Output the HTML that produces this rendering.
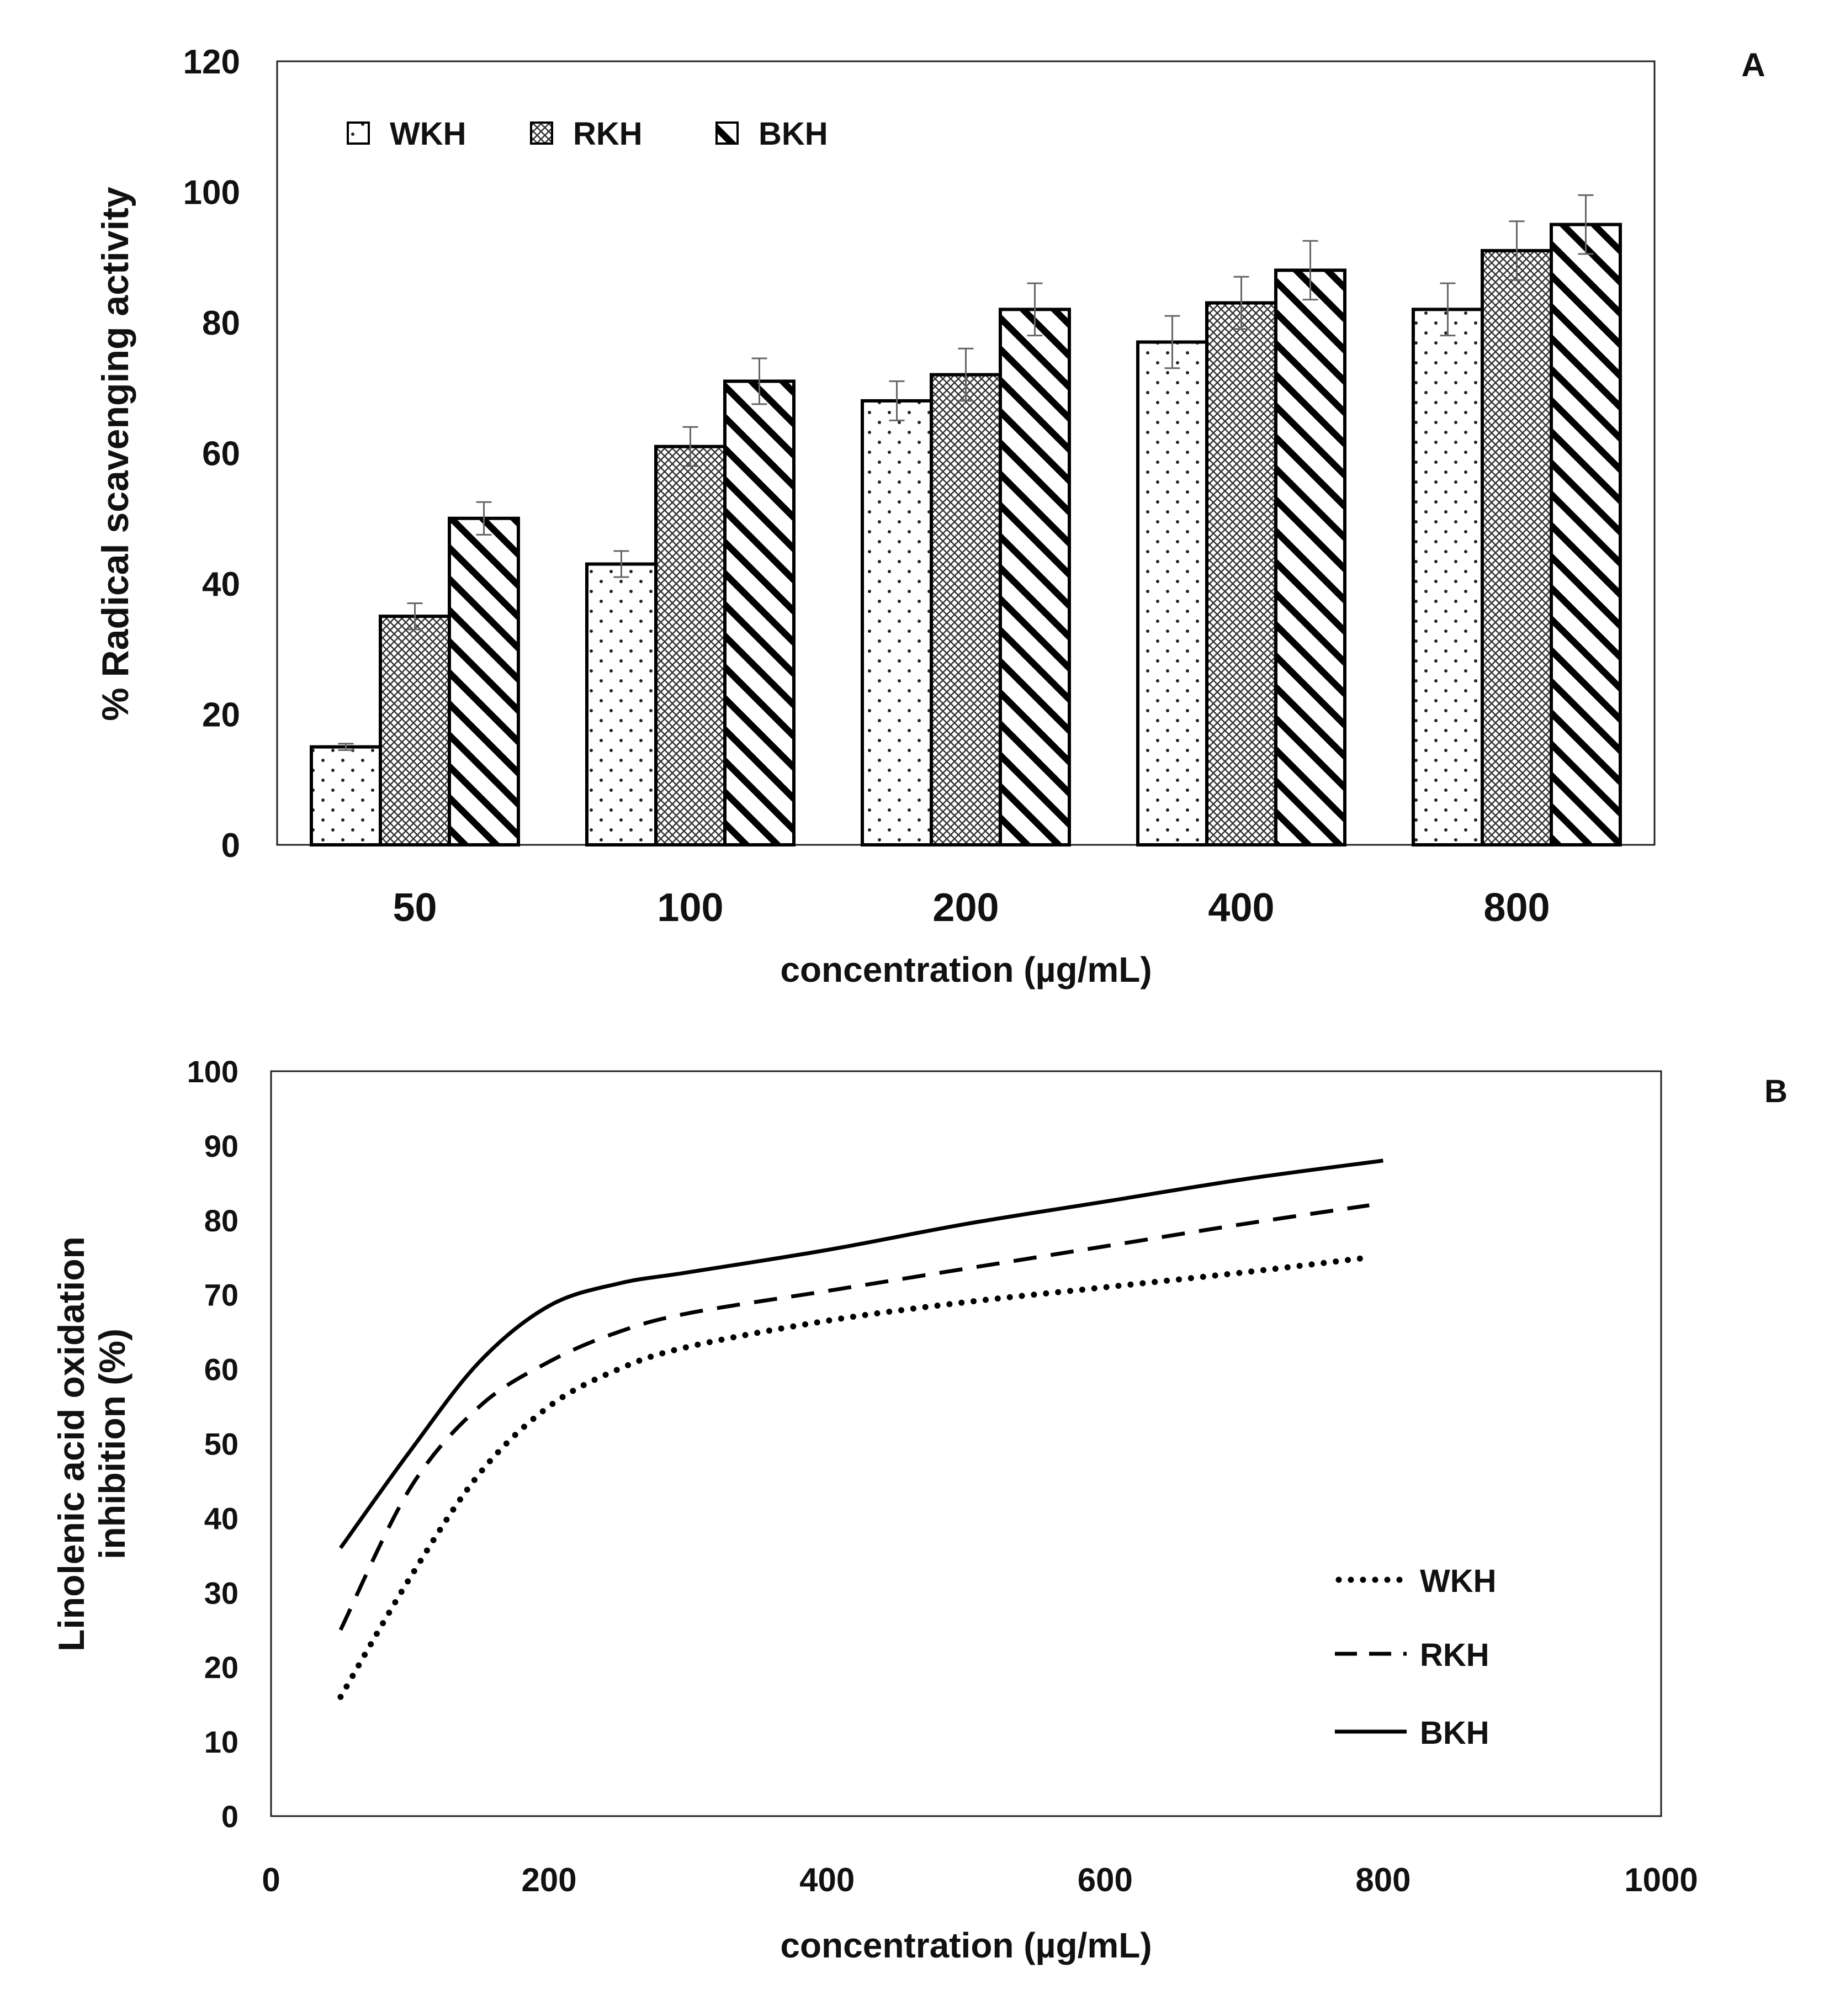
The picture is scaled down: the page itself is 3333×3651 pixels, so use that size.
<!DOCTYPE html>
<html><head><meta charset="utf-8"><style>
html,body{margin:0;padding:0;background:#fff;}
svg text{font-family:"Liberation Sans",sans-serif;font-weight:bold;fill:#111;}
</style></head><body>
<svg id="fig" width="3333" height="3646" xmlns="http://www.w3.org/2000/svg">
<defs>
<pattern id="pDots" patternUnits="userSpaceOnUse" width="36" height="36"><rect width="36" height="36" fill="#fff"/><circle cx="9" cy="9" r="3" fill="#222"/><circle cx="27" cy="27" r="3" fill="#222"/></pattern>
<pattern id="pCross" patternUnits="userSpaceOnUse" width="14" height="14"><rect width="14" height="14" fill="#fff"/><path d="M0,0L14,14M14,0L0,14" stroke="#333" stroke-width="2.5"/></pattern>
<pattern id="pDiag" patternUnits="userSpaceOnUse" width="40" height="40" patternTransform="rotate(45)"><rect width="40" height="40" fill="#fff"/><rect x="0" y="0" width="40" height="12" fill="#000"/></pattern>
</defs>
<g id="chartA"></g>
<g id="chartB"></g>
</svg>
<script>
const NS='http://www.w3.org/2000/svg';
const catsA=['50','100','200','400','800'];
const wkhA=[15,43,68,77,82];
const rkhA=[35,61,72,83,91];
const bkhA=[50,71,82,88,95];
const wkhErr=[0.5,2,3,4,4];
const rkhErr=[2,3,4,4,4.5];
const bkhErr=[2.5,3.5,4,4.5,4.5];
const yTicksA=[0,20,40,60,80,100,120];
const xB=[50,100,150,200,250,300,400,500,600,700,800];
const bkhB=[36,49,61,68.5,71.5,73,76,79.5,82.5,85.5,88];
const rkhB=[25,44,55,61,65,67.5,70.5,73.5,76.5,79.5,82];
const wkhB=[16,32,46,55,60,63,66.5,69,71,73,75];
const yTicksB=[0,10,20,30,40,50,60,70,80,90,100];
const xTicksB=[0,200,400,600,800,1000];

function mk(parent,tag,attrs,text){const e=document.createElementNS(NS,tag);for(const k in attrs)e.setAttribute(k,attrs[k]);if(text!==undefined)e.textContent=text;parent.appendChild(e);return e;}

// ---- Chart A ----
const A=document.getElementById('chartA');
const aL=502,aR=2997,aT=111,aB=1530;
const yA=v=>aB-(v/120)*(aB-aT);
const catW=(aR-aL)/catsA.length, barW=125;
const frameA=mk(A,'rect',{x:aL,y:aT,width:aR-aL,height:aB-aT,fill:'none',stroke:'#222','stroke-width':3});


yTicksA.forEach(t=>{const e=mk(A,'text',{x:435,y:yA(t)+22,'text-anchor':'end','font-size':62},t);

});
const seriesA=[[wkhA,wkhErr,'url(#pDots)','wkh'],[rkhA,rkhErr,'url(#pCross)','rkh'],[bkhA,bkhErr,'url(#pDiag)','bkh']];
catsA.forEach((c,i)=>{
  const cx=aL+catW*(i+0.5);
  seriesA.forEach((s,j)=>{
    const x=cx-1.5*barW+j*barW, v=s[0][i], e=s[1][i];
    const r=mk(A,'rect',{x:x,y:yA(v),width:barW,height:aB-yA(v),fill:s[2],stroke:'#000','stroke-width':6});
    
    
    const ex=x+barW/2;
    const eb=mk(A,'path',{d:`M${ex},${yA(v+e)}V${yA(v-e)}M${ex-14},${yA(v+e)}H${ex+14}M${ex-14},${yA(v-e)}H${ex+14}`,stroke:'#666','stroke-width':3,fill:'none'});
    
    
  });
  const t=mk(A,'text',{x:cx,y:1668,'text-anchor':'middle','font-size':72},c);
  
  
});
let t;
t=mk(A,'text',{x:1750,y:1778,'text-anchor':'middle','font-size':64},'concentration (µg/mL)');

t=mk(A,'text',{x:0,y:0,'text-anchor':'middle','font-size':68,transform:'translate(232,822) rotate(-90)'},'% Radical scavenging activity');

t=mk(A,'text',{x:3176,y:138,'text-anchor':'middle','font-size':60},'A');

const legA=[['WKH','url(#pDots)',630],['RKH','url(#pCross)',962],['BKH','url(#pDiag)',1298]];
legA.forEach(l=>{
  const g=mk(A,'g',{});
  
  
  mk(g,'rect',{x:l[2],y:222,width:38,height:38,fill:l[1],stroke:'#000','stroke-width':4});
  mk(g,'text',{x:l[2]+76,y:262,'font-size':58},l[0]);
});

// ---- Chart B ----
const B=document.getElementById('chartB');
const bL=491,bR=3009,bT=1940,bB=3289;
const xs=v=>bL+(v/1000)*(bR-bL);
const ys=v=>bB-(v/100)*(bB-bT);
const frameB=mk(B,'rect',{x:bL,y:bT,width:bR-bL,height:bB-bT,fill:'none',stroke:'#222','stroke-width':3});


yTicksB.forEach(v=>{const e=mk(B,'text',{x:432,y:ys(v)+20,'text-anchor':'end','font-size':56},v);

});
xTicksB.forEach(v=>{const e=mk(B,'text',{x:xs(v),y:3425,'text-anchor':'middle','font-size':60},v);

});
function smooth(xsArr,ysArr){
  const p=xsArr.map((x,i)=>[xs(x),ys(ysArr[i])]);
  let d=`M${p[0][0]},${p[0][1]}`;
  for(let i=0;i<p.length-1;i++){
    const p0=p[i-1]||p[i],p1=p[i],p2=p[i+1],p3=p[i+2]||p2;
    const c1=[p1[0]+(p2[0]-p0[0])/6,p1[1]+(p2[1]-p0[1])/6];
    const c2=[p2[0]-(p3[0]-p1[0])/6,p2[1]-(p3[1]-p1[1])/6];
    d+=`C${c1[0]},${c1[1]} ${c2[0]},${c2[1]} ${p2[0]},${p2[1]}`;
  }
  return d;
}
const styles={wkh:{dash:'0 22',cap:'round',w:11},rkh:{dash:'42 26',cap:'butt',w:7},bkh:{dash:'none',cap:'butt',w:7}};
[['wkh',wkhB],['rkh',rkhB],['bkh',bkhB]].forEach(s=>{
  const st=styles[s[0]];
  const xsArr=s[0]==='bkh'?xB:xB.map(v=>v===800?790:v);
  const p=mk(B,'path',{d:smooth(xsArr,s[1]),fill:'none',stroke:'#000','stroke-width':st.w,'stroke-dasharray':st.dash,'stroke-linecap':st.cap});
  
  
});
const legB=[['WKH','wkh',2861],['RKH','rkh',2995],['BKH','bkh',3136]];
legB.forEach(l=>{
  const st=styles[l[1]];
  const g=mk(B,'g',{});
  
  
  mk(g,'path',{d:`M${l[1]==='wkh'?2425:2418},${l[2]}H2548`,stroke:'#000','stroke-width':st.w,'stroke-dasharray':st.dash==='none'?'none':(l[1]==='rkh'?'40 22':st.dash),'stroke-linecap':st.cap,fill:'none'});
  mk(g,'text',{x:2572,y:l[2]+22,'font-size':58},l[0]);
});
t=mk(B,'text',{x:1750,y:3545,'text-anchor':'middle','font-size':64},'concentration (µg/mL)');

t=mk(B,'text',{x:0,y:0,'text-anchor':'middle','font-size':66,transform:'translate(152,2615) rotate(-90)'},'Linolenic acid oxidation');

t=mk(B,'text',{x:0,y:0,'text-anchor':'middle','font-size':66,transform:'translate(226,2615) rotate(-90)'},'inhibition (%)');

t=mk(B,'text',{x:3217,y:1996,'text-anchor':'middle','font-size':58},'B');

</script>
</body></html>
